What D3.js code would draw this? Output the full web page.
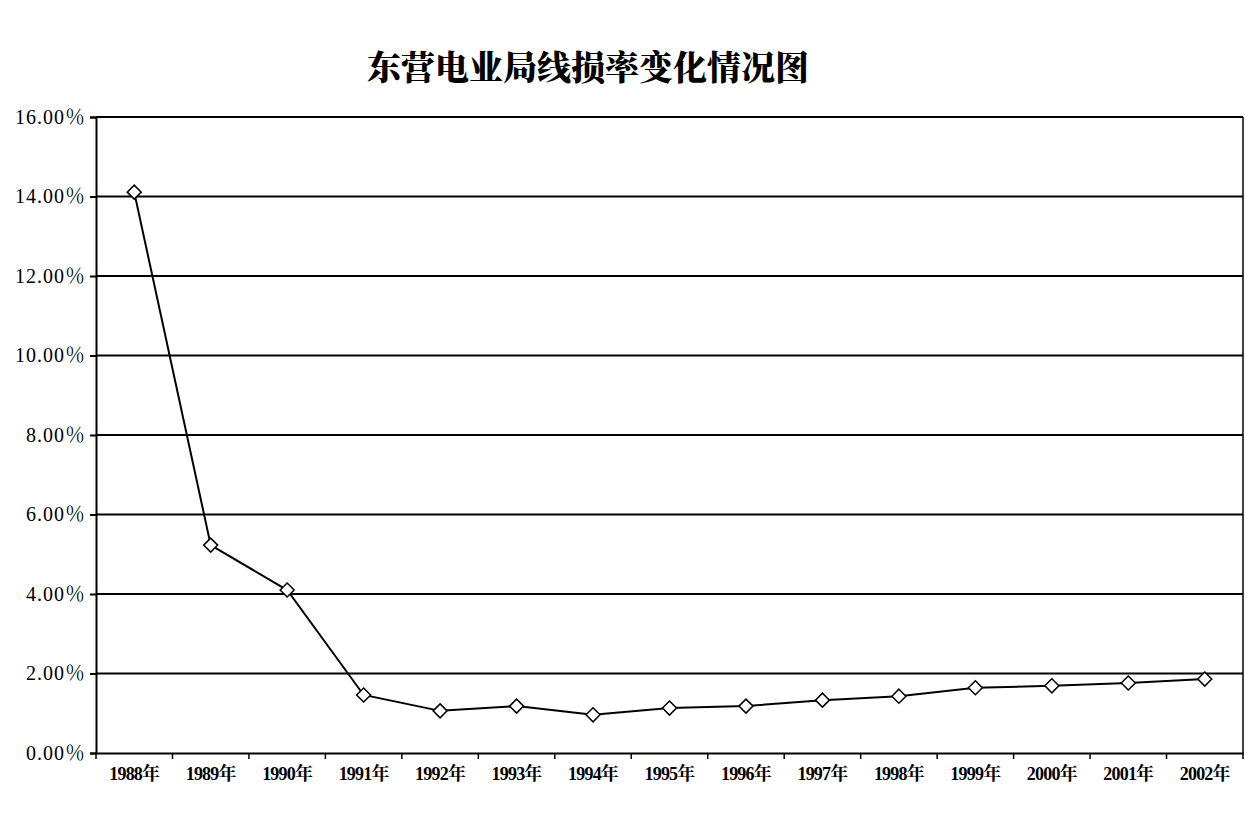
<!DOCTYPE html>
<html><head><meta charset="utf-8">
<script src="https://cdn.jsdelivr.net/npm/d3@7"></script>
<style>body{margin:0;background:#fff}</style></head>
<body><svg id="c" width="1245" height="838"></svg>
<script>
const categories = ["1988年","1989年","1990年","1991年","1992年","1993年","1994年","1995年","1996年","1997年","1998年","1999年","2000年","2001年","2002年"];
const lossRate = [14.11,5.23,4.10,1.46,1.06,1.18,0.96,1.13,1.18,1.33,1.43,1.64,1.69,1.76,1.86];
const yTicks = [0,2,4,6,8,10,12,14,16];
const title = "东营电业局线损率变化情况图";

const svg = d3.select("#c");
const L=96,R=1243,T=117,B=753;
const x = d3.scaleBand().domain(categories).range([L,R]);
const y = d3.scaleLinear().domain([0,16]).range([B,T]);
const font = "'Liberation Serif','Noto Serif CJK SC','Noto Sans CJK SC',serif";

svg.append("text").attr("x",588).attr("y",80).attr("text-anchor","middle")
 .attr("font-family","'Noto Serif CJK SC','Noto Sans CJK SC',serif").attr("font-weight","900").attr("font-size",34).text(title);

svg.selectAll(".g").data(yTicks.filter(d=>d>0)).enter().append("line")
 .attr("x1",L).attr("x2",R).attr("y1",d=>y(d)).attr("y2",d=>y(d)).attr("stroke","#000").attr("stroke-width",2);
svg.append("line").attr("x1",R).attr("x2",R).attr("y1",T).attr("y2",B).attr("stroke","#000").attr("stroke-width",1.5);

const ya = svg.append("g").attr("transform",`translate(${L},0)`)
 .call(d3.axisLeft(y).tickValues(yTicks).tickSize(6).tickPadding(4).tickFormat(d=>d.toFixed(2)+"％"));
const xa = svg.append("g").attr("transform",`translate(0,${B})`)
 .call(d3.axisBottom(x).tickSize(0).tickPadding(14));
[ya,xa].forEach(a=>{a.selectAll("path,line").attr("stroke","#000").attr("stroke-width",2);
 a.selectAll("text").attr("font-family",font).attr("fill","#000");});
ya.selectAll("text").attr("font-size",20).attr("letter-spacing","1");
xa.selectAll("text").attr("font-size",18).attr("font-weight","bold").attr("letter-spacing","-0.8");
svg.append("g").selectAll("line").data(categories.concat([null])).enter().append("line")
 .attr("x1",(d,i)=>L+i*x.step()).attr("x2",(d,i)=>L+i*x.step()).attr("y1",B).attr("y2",B+6)
 .attr("stroke","#000").attr("stroke-width",1.5);

const px = d=>x(d)+x.bandwidth()/2;
svg.append("path").datum(lossRate).attr("fill","none").attr("stroke","#000").attr("stroke-width",2)
 .attr("d",d3.line().x((d,i)=>px(categories[i])).y(d=>y(d)));
svg.selectAll(".m").data(lossRate).enter().append("path")
 .attr("transform",(d,i)=>`translate(${px(categories[i])},${y(d)})`)
 .attr("d","M0,-7L7,0L0,7L-7,0Z").attr("fill","#fff").attr("stroke","#000").attr("stroke-width",1.5);
</script></body></html>
